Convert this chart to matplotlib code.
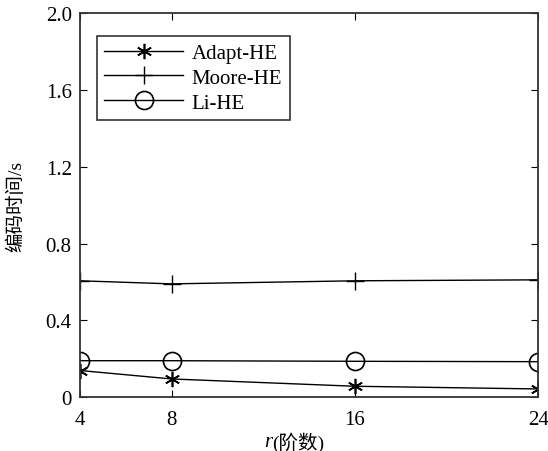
import matplotlib
matplotlib.use("Agg")
import matplotlib.pyplot as plt

plt.rcParams['font.family'] = ['Liberation Serif', 'Noto Sans CJK SC']

r_order = [4, 8, 16, 24]
adapt_he = [0.139, 0.095, 0.057, 0.043]
moore_he = [0.606, 0.590, 0.606, 0.611]
li_he = [0.190, 0.190, 0.187, 0.185]

fig = plt.figure(figsize=(5.48, 4.52), dpi=100)
# axes box: x 80..538 px, y 14..398 px
ax = fig.add_axes([0.146, 0.119, 0.836, 0.850])

ax.plot(r_order, adapt_he, color='black', lw=1, marker=(6, 2, 0),
        markersize=11, mew=1.2, label='Adapt-HE')
ax.plot(r_order, moore_he, color='black', lw=1, marker='+',
        markersize=13, mew=1.0, label='Moore-HE')
ax.plot(r_order, li_he, color='black', lw=1, marker='o', mfc='none',
        markersize=13, mew=1.2, label='Li-HE')

ax.set_xlim(4, 24)
ax.set_ylim(0, 2.0)
ax.set_xticks(r_order)
ax.set_yticks([0, 0.4, 0.8, 1.2, 1.6, 2.0])
ax.set_yticklabels(['0', '0.4', '0.8', '1.2', '1.6', '2.0'])
ax.tick_params(direction='in', top=True, right=True, labelsize=15, length=5)
ax.tick_params(axis='x', pad=9)
ax.tick_params(axis='y', pad=6)
for s in ax.spines.values():
    s.set_linewidth(1.3)
    s.set_color('#333333')

# x label: italic r followed by (阶数)
fig.text(0.497, 0.021, 'r', fontsize=15, style='italic', ha='right', va='center')
fig.text(0.497, 0.021, '(阶数)', fontsize=14, ha='left', va='center')

ax.set_ylabel('编码时间/s', fontsize=14)
ax.yaxis.set_label_coords(-0.12, 0.5)

leg = ax.legend(loc='upper left', bbox_to_anchor=(0.037, 0.94), borderaxespad=0,
                fontsize=15, fancybox=False, edgecolor='#333333', framealpha=1,
                handlelength=3.8, handletextpad=0.4, borderpad=0.35,
                labelspacing=0.25)
leg.get_frame().set_linewidth(1.2)

fig.savefig('out.png', dpi=100)
